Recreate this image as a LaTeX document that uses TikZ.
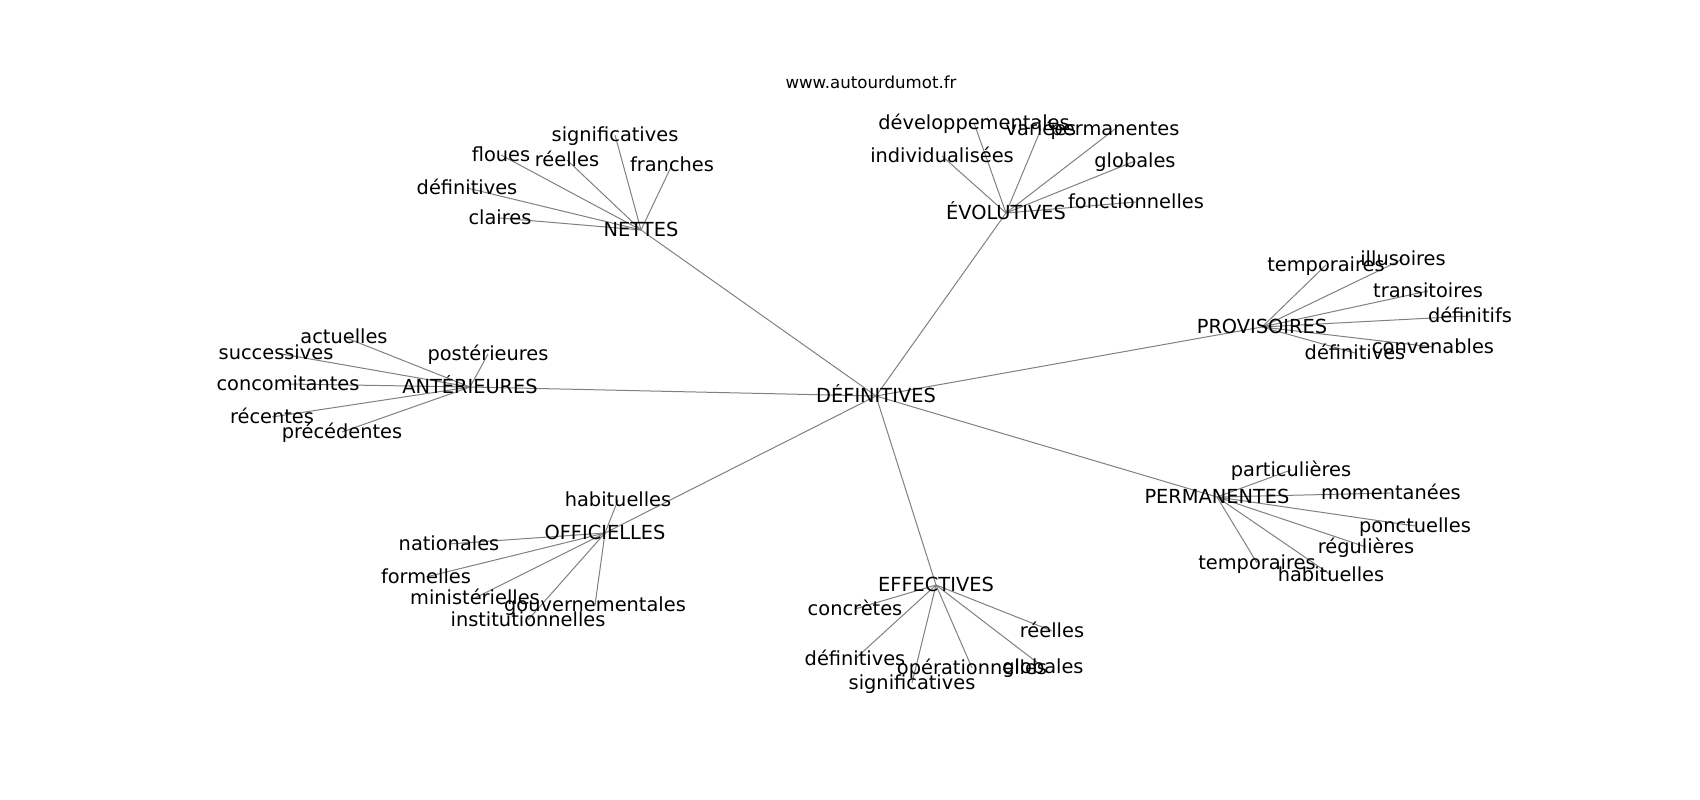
\documentclass[tikz,border=0pt]{standalone}
\usepackage{fontspec}
\setmainfont{DejaVu Sans}
\usetikzlibrary{backgrounds}
\begin{document}
\begin{tikzpicture}[x=0.01in,y=-0.01in]
  \tikzset{word/.style={inner sep=0pt, text height=1.9ex, text depth=0.2ex,
      font=\fontsize{14}{16}\selectfont},
    link/.style={gray, line width=0.01in}}
  \useasboundingbox (0,0) rectangle (1700,800);
  \node[inner sep=0pt, text height=1.9ex, text depth=0.2ex,
    font=\fontsize{12}{14}\selectfont] (site) at (871,82) {www.autourdumot.fr};
  \node[word] (def) at (876,396) {DÉFINITIVES};
  % hubs round the centre
  \foreach \h/\px/\py/\txt in {nettes/641/230/NETTES, evol/1006/213/ÉVOLUTIVES,
      prov/1262/327/PROVISOIRES, ant/470/387/ANTÉRIEURES, perm/1217/497/PERMANENTES,
      off/605/533/OFFICIELLES, eff/936/585/EFFECTIVES}{
    \node[word] (\h) at (\px,\py) {\txt};
    \begin{scope}[on background layer]
      \draw[link] (def.center) -- (\h.center);
    \end{scope}
  }
  % leaves
  \foreach \txt/\px/\py [count=\i] in {significatives/615/135, floues/501/155,
      réelles/567/160, franches/672/165, définitives/467/188, claires/500/218}{
    \node[word] (nettes-\i) at (\px,\py) {\txt};
    \begin{scope}[on background layer]
      \draw[link] (nettes.center) -- (nettes-\i.center);
    \end{scope}
  }
  \foreach \txt/\px/\py [count=\i] in {développementales/974/123, variées/1041/129,
      permanentes/1115/129, individualisées/942/156, globales/1135/161,
      fonctionnelles/1136/202}{
    \node[word] (evol-\i) at (\px,\py) {\txt};
    \begin{scope}[on background layer]
      \draw[link] (evol.center) -- (evol-\i.center);
    \end{scope}
  }
  \foreach \txt/\px/\py [count=\i] in {temporaires/1326/265, illusoires/1403/259,
      transitoires/1428/291, définitifs/1470/316, convenables/1433/347,
      définitives/1355/353}{
    \node[word] (prov-\i) at (\px,\py) {\txt};
    \begin{scope}[on background layer]
      \draw[link] (prov.center) -- (prov-\i.center);
    \end{scope}
  }
  \foreach \txt/\px/\py [count=\i] in {actuelles/344/337, successives/276/353,
      postérieures/488/354, concomitantes/288/384, récentes/272/417,
      précédentes/342/432}{
    \node[word] (ant-\i) at (\px,\py) {\txt};
    \begin{scope}[on background layer]
      \draw[link] (ant.center) -- (ant-\i.center);
    \end{scope}
  }
  \foreach \txt/\px/\py [count=\i] in {particulières/1291/470, momentanées/1391/493,
      ponctuelles/1415/526, régulières/1366/547, temporaires/1257/563,
      habituelles/1331/575}{
    \node[word] (perm-\i) at (\px,\py) {\txt};
    \begin{scope}[on background layer]
      \draw[link] (perm.center) -- (perm-\i.center);
    \end{scope}
  }
  \foreach \txt/\px/\py [count=\i] in {habituelles/618/500, nationales/449/544,
      formelles/426/577, ministérielles/475/598, gouvernementales/595/605,
      institutionnelles/528/620}{
    \node[word] (off-\i) at (\px,\py) {\txt};
    \begin{scope}[on background layer]
      \draw[link] (off.center) -- (off-\i.center);
    \end{scope}
  }
  \foreach \txt/\px/\py [count=\i] in {concrètes/855/609, réelles/1052/631,
      définitives/855/659, opérationnelles/972/668, globales/1043/667,
      significatives/912/683}{
    \node[word] (eff-\i) at (\px,\py) {\txt};
    \begin{scope}[on background layer]
      \draw[link] (eff.center) -- (eff-\i.center);
    \end{scope}
  }
\end{tikzpicture}
\end{document}
